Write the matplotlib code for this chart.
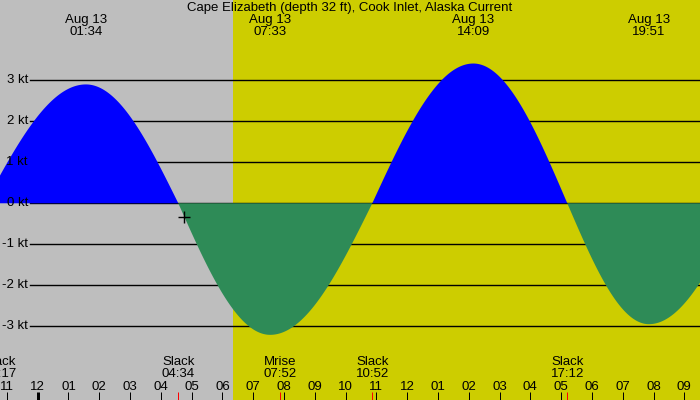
import numpy as np
import matplotlib
matplotlib.use("Agg")
import matplotlib.pyplot as plt

# ---- data (hours relative to midnight Aug 13) ----
event_hours = [-1.717, 1.567, 4.567, 7.55, 10.867, 14.15, 17.2, 19.85, 22.9]
event_speeds = [0.0, 2.90, 0.0, -3.21, 0.0, 3.41, 0.0, -2.95, 0.0]

max_hours = [1.567, 7.55, 14.15, 19.85]
max_labels = ["Aug 13\n01:34", "Aug 13\n07:33", "Aug 13\n14:09", "Aug 13\n19:51"]

bottom_events = [-1.717, 4.567, 7.867, 10.867, 17.2]
bottom_labels = ["Slack\n22:17", "Slack\n04:34", "Mrise\n07:52", "Slack\n10:52", "Slack\n17:12"]

hour_ticks = list(range(-1, 22))
hour_tick_labels = ["11", "12", "01", "02", "03", "04", "05", "06", "07", "08", "09", "10",
                    "11", "12", "01", "02", "03", "04", "05", "06", "07", "08", "09"]

kt_levels = [3, 2, 1, 0, -1, -2, -3]
kt_labels = ["3 kt", "2 kt", "1 kt", "0 kt", "-1 kt", "-2 kt", "-3 kt"]

sunrise_hour = 6.35
now_hour, now_speed = 4.76, -0.33

title = "Cape Elizabeth (depth 32 ft), Cook Inlet, Alaska Current"

x_min, x_max = -1.224, 21.51
y_min, y_max = -4.80, 4.96

# ---- curve: quarter-sine segments between slack and max events ----
t = np.linspace(x_min, x_max, 2000)
v = np.zeros_like(t)
for i in range(len(event_hours) - 1):
    t0, t1 = event_hours[i], event_hours[i + 1]
    s0, s1 = event_speeds[i], event_speeds[i + 1]
    m = (t >= t0) & (t <= t1)
    f = (t[m] - t0) / (t1 - t0)
    if s0 == 0:
        v[m] = s1 * np.sin(np.pi / 2 * f)
    else:
        v[m] = s0 * np.cos(np.pi / 2 * f)

plt.rcParams['font.family'] = ['Liberation Sans', 'DejaVu Sans']
FS = 9.5
fig = plt.figure(figsize=(7, 4), dpi=100)
ax = fig.add_axes([0, 0, 1, 1])
ax.set_xlim(x_min, x_max)
ax.set_ylim(y_min, y_max)
ax.axis('off')

grey = '#bebebe'
yellow = '#cdcd00'
ax.axvspan(x_min, sunrise_hour, color=grey, lw=0, zorder=0)
ax.axvspan(sunrise_hour, x_max, color=yellow, lw=0, zorder=0)

# grid lines
for k in kt_levels:
    ax.axhline(k, xmin=30 / 700, xmax=1, color='black', lw=1.0, zorder=1)

ax.fill_between(t, 0, v, where=v >= 0, color='#0000ff', lw=0, zorder=2, interpolate=True)
ax.fill_between(t, 0, v, where=v <= 0, color='#2e8b57', lw=0, zorder=2, interpolate=True)

# y labels
for k, lab in zip(kt_levels, kt_labels):
    ax.annotate(lab, xy=(28 / 700, k), xycoords=('axes fraction', 'data'),
                ha='right', va='center', fontsize=FS, zorder=5)

# marker
ax.plot([now_hour], [now_speed], marker='+', color='black', ms=9, mew=1, zorder=5)

# title
fig.text(0.5, 1 - 8 / 400, title, ha='center', va='center', fontsize=FS)

# top labels
for h, lab in zip(max_hours, max_labels):
    ax.annotate(lab, xy=(h, 1 - 26 / 400), xycoords=('data', 'axes fraction'),
                ha='center', va='center', fontsize=FS, linespacing=1.07)

# bottom ticks
for h in hour_ticks:
    w = 3 if h == 0 else 1
    ax.plot([h, h], [y_min, y_min + 8 / 41], color='black', lw=w * 0.72, zorder=4,
            solid_capstyle='butt')
for h in bottom_events:
    ax.plot([h, h], [y_min, y_min + 8 / 41], color='red', lw=0.72, zorder=4,
            solid_capstyle='butt')
for h, lab in zip(hour_ticks, hour_tick_labels):
    ax.annotate(lab, xy=(h, 13.5 / 400), xycoords=('data', 'axes fraction'),
                ha='center', va='center', fontsize=FS)

for h, lab in zip(bottom_events, bottom_labels):
    hx = max(h, x_min)
    ax.annotate(lab, xy=(hx, 32 / 400), xycoords=('data', 'axes fraction'),
                ha='center', va='center', fontsize=FS, linespacing=1.07)

fig.savefig('out.png', dpi=100)
